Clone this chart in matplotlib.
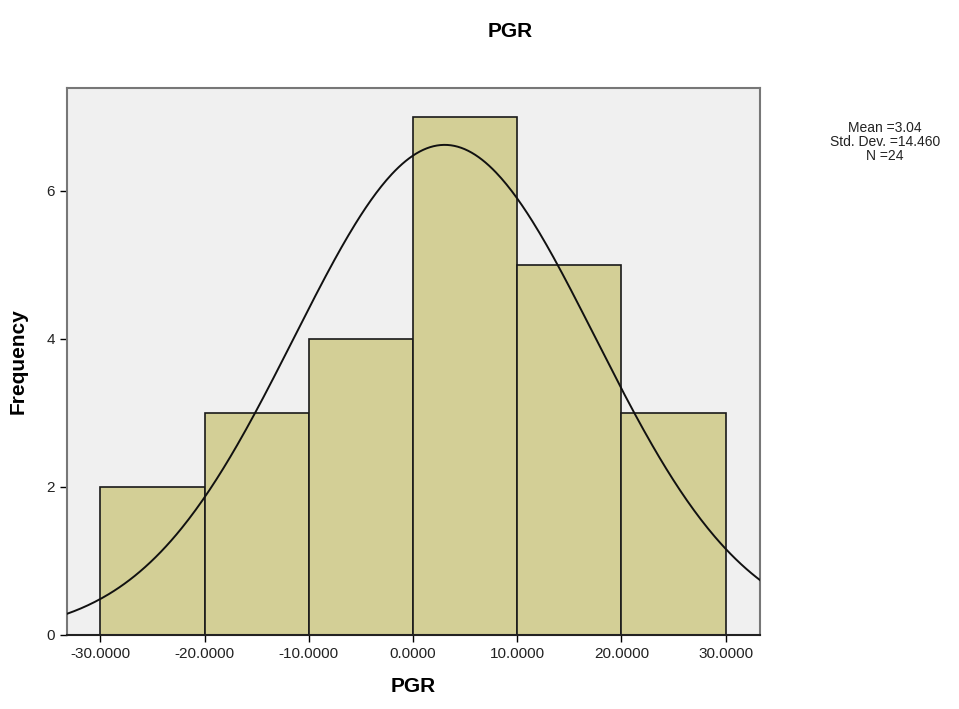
import numpy as np
import matplotlib
matplotlib.use('Agg')
import matplotlib.pyplot as plt

plt.rcParams['font.family'] = ['Liberation Sans', 'DejaVu Sans']

### histogram data
bin_edges = [-30, -20, -10, 0, 10, 20, 30]
counts = [2, 3, 4, 7, 5, 3]
mean = 3.04
sd = 14.460
n = 24
xticks = [-30, -20, -10, 0, 10, 20, 30]
yticks = [0, 2, 4, 6]

### figure
fig = plt.figure(figsize=(9.59, 7.09), dpi=100)
ax = fig.add_axes([0.0699, 0.1044, 0.7226, 0.7715])
ax.set_facecolor('#f0f0f0')

lefts = bin_edges[:-1]
widths = np.diff(bin_edges)
ax.bar(lefts, counts, width=widths, align='edge', color='#d3cf96',
       edgecolor='#1a1a1a', linewidth=1.2, zorder=2)

### normal curve
xs = np.linspace(-33.2, 33.3, 400)
bw = widths[0]
ys = n * bw / (sd * np.sqrt(2 * np.pi)) * np.exp(-0.5 * ((xs - mean) / sd) ** 2)
ax.plot(xs, ys, color='#111111', linewidth=1.4, zorder=3)

ax.set_xlim(-33.2, 33.3)
ax.set_ylim(0, 7.39)
ax.set_xticks(xticks)
ax.set_xticklabels(['%.4f' % v for v in xticks], fontsize=11, color='#222222')
ax.set_yticks(yticks)
ax.set_yticklabels([str(v) for v in yticks], fontsize=11, color='#222222')
ax.tick_params(direction='out', length=5, width=1)

for s in ['left', 'top', 'right']:
    ax.spines[s].set_color('#777777')
    ax.spines[s].set_linewidth(1.5)
ax.spines['bottom'].set_color('#222222')
ax.spines['bottom'].set_linewidth(1.5)

ax.set_xlabel('PGR', fontsize=15, fontweight='bold', labelpad=12)
ax.set_ylabel('Frequency', fontsize=15, fontweight='bold', labelpad=14)
fig.text(0.532, 0.955, 'PGR', ha='center', va='center', fontsize=15, fontweight='bold')

fig.text(0.923, 0.80, 'Mean =%.2f\nStd. Dev. =%.3f\nN =%d' % (mean, sd, n),
         ha='center', va='center', fontsize=10, color='#222222', linespacing=1.0)

plt.savefig('out.png', dpi=100)
